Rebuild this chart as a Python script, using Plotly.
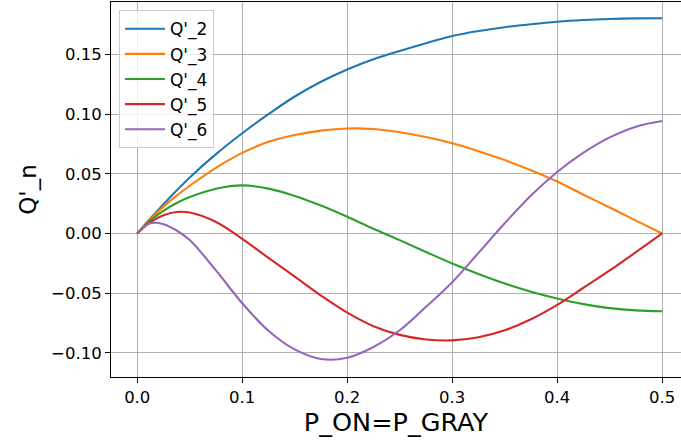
import plotly.graph_objects as go

# ---- data ----
p_values = [0.0, 0.0125, 0.025, 0.0375, 0.05, 0.075, 0.1, 0.125, 0.15, 0.175, 0.2,
            0.225, 0.25, 0.275, 0.3, 0.325, 0.35, 0.375, 0.4, 0.425, 0.45, 0.475, 0.5]

q2 = [0.0, 0.0125, 0.0245, 0.036, 0.047, 0.0665, 0.084, 0.1, 0.1148, 0.1272, 0.1375,
      0.146, 0.153, 0.1595, 0.1655, 0.1697, 0.1729, 0.1754, 0.1775, 0.1789, 0.1798, 0.1803, 0.1804]
q3 = [0.0, 0.012, 0.0225, 0.0317, 0.040, 0.055, 0.0675, 0.0768, 0.0825, 0.0862, 0.088,
      0.0875, 0.0848, 0.0808, 0.0756, 0.069, 0.0615, 0.053, 0.0435, 0.0325, 0.0218, 0.0108, 0.0]
q4 = [0.0, 0.011, 0.019, 0.0255, 0.0305, 0.0375, 0.0403, 0.0376, 0.0315, 0.0234, 0.014,
      0.0039, -0.0056, -0.0155, -0.0252, -0.034, -0.042, -0.0488, -0.0545, -0.0592, -0.0626, -0.0645, -0.0652]
q5 = [0.0, 0.0095, 0.0153, 0.018, 0.0175, 0.0096, -0.0045, -0.0205, -0.0362, -0.0520, -0.0664,
      -0.0777, -0.0850, -0.0888, -0.0896, -0.087, -0.0811, -0.0719, -0.0598, -0.0455, -0.031, -0.0156, 0.0]
q6 = [0.0, 0.0085, 0.0078, 0.0025, -0.0055, -0.031, -0.0585, -0.0815, -0.0972, -0.1052, -0.1042,
      -0.0952, -0.0811, -0.0615, -0.0408, -0.0163, 0.0085, 0.0318, 0.0515, 0.0677, 0.0805, 0.0895, 0.0942]

series_names = ["Q'_2", "Q'_3", "Q'_4", "Q'_5", "Q'_6"]
series_values = [q2, q3, q4, q5, q6]
colors = ["#1f77b4", "#ff7f0e", "#2ca02c", "#d62728", "#9467bd"]

x_ticks = [0.0, 0.1, 0.2, 0.3, 0.4, 0.5]
y_ticks = [-0.10, -0.05, 0.0, 0.05, 0.10, 0.15]

FONT = "DejaVu Sans"

fig = go.Figure()
for name, vals, col in zip(series_names, series_values, colors):
    fig.add_trace(go.Scatter(x=p_values, y=vals, mode="lines", name=name,
                             line=dict(color=col, width=2.1, shape="spline", smoothing=1.0)))

fig.update_layout(
    template="none",
    width=681, height=443,
    margin=dict(l=111, r=0, t=2, b=66, autoexpand=False),
    paper_bgcolor="white", plot_bgcolor="white",
    font=dict(family=FONT, size=16.5, color="black"),
    showlegend=True,
    legend=dict(x=0.014, y=0.978, xanchor="left", yanchor="top",
                bgcolor="rgba(255,255,255,0.8)", bordercolor="#cccccc", borderwidth=1,
                font=dict(family=FONT, size=17, color="black"), itemwidth=40),
)

fig.update_xaxes(
    range=[-0.025, 0.5179], tickvals=x_ticks, tickformat=".1f",
    showgrid=True, gridcolor="#b0b0b0", gridwidth=1.3,
    showline=True, linecolor="black", linewidth=1.1, mirror=True,
    ticks="outside", ticklen=5, tickwidth=1.1, tickcolor="black",
    zeroline=False, automargin=False,
    tickfont=dict(family=FONT, size=16.5, color="black"),
    title=dict(text="P_ON=P_GRAY", font=dict(family=FONT, size=25.5, color="black"), standoff=4),
)
fig.update_yaxes(
    range=[-0.1203, 0.194], tickvals=y_ticks, tickformat=".2f",
    showgrid=True, gridcolor="#b0b0b0", gridwidth=1.3,
    showline=True, linecolor="black", linewidth=1.1, mirror=False,
    ticks="outside", ticklen=5, tickwidth=1.1, tickcolor="black",
    zeroline=False, automargin=False,
    tickfont=dict(family=FONT, size=16.5, color="black"),
    title=dict(text="Q'_n", font=dict(family=FONT, size=23, color="black"), standoff=8),
)

fig.write_html("out.html",
               config={"displayModeBar": False},
               post_script="document.body.style.margin='0';document.body.style.overflow='hidden';")
